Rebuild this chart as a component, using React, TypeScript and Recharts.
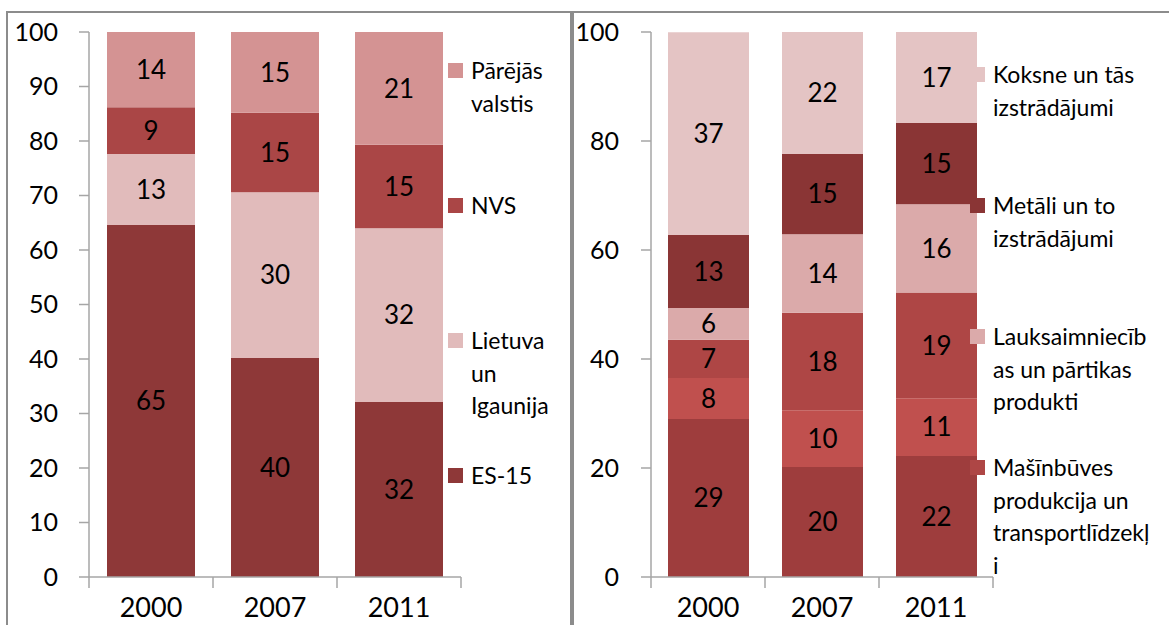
import React from 'react';
import { BarChart, Bar, XAxis, YAxis, LabelList, Legend } from 'recharts';

const years = ['2000', '2007', '2011'];

// Left chart: export by destination (%), bottom to top
const es15 = [64.6, 40.2, 32.1];
const lietuvaIgaunija = [13.0, 30.4, 31.9];
const nvs = [8.6, 14.6, 15.3];
const parejasValstis = [13.8, 14.8, 20.7];

// Right chart: export by product group (%), bottom to top
const groupA = [29.0, 20.2, 22.2];
const groupB = [7.5, 10.4, 10.6];
const masinbuves = [7.05, 17.9, 19.4];
const lauksaimniecibas = [5.8, 14.4, 16.2];
const metali = [13.4, 14.7, 14.9];
const koksne = [37.2, 22.4, 16.7];

const leftTicks = [0, 10, 20, 30, 40, 50, 60, 70, 80, 90, 100];
const rightTicks = [0, 20, 40, 60, 80, 100];

const leftSeries = [
  { key: 'es15', values: es15, color: '#8E3838', lines: ['ES-15'] },
  { key: 'lig', values: lietuvaIgaunija, color: '#E1BBBB', lines: ['Lietuva', 'un', 'Igaunija'] },
  { key: 'nvs', values: nvs, color: '#AA4646', lines: ['NVS'] },
  { key: 'par', values: parejasValstis, color: '#D49393', lines: ['Pārējās', 'valstis'] },
];

const rightSeries = [
  { key: 'a', values: groupA, color: '#9E3D3D', lines: null },
  { key: 'b', values: groupB, color: '#C0504E', lines: null },
  { key: 'mas', values: masinbuves, color: '#AE4645', lines: ['Mašīnbūves', 'produkcija un', 'transportlīdzekļ', 'i'] },
  { key: 'lau', values: lauksaimniecibas, color: '#DBAAAA', lines: ['Lauksaimniecīb', 'as un pārtikas', 'produkti'] },
  { key: 'met', values: metali, color: '#8A3535', lines: ['Metāli un to', 'izstrādājumi'] },
  { key: 'kok', values: koksne, color: '#E4C4C4', lines: ['Koksne un tās', 'izstrādājumi'] },
];

const buildData = (series: any[]) =>
  years.map((y, i) => {
    const row: any = { year: y };
    series.forEach((s) => (row[s.key] = s.values[i]));
    return row;
  });

const leftData = buildData(leftSeries);
const rightData = buildData(rightSeries);

const FONT = 'Lato, "DejaVu Sans", sans-serif';
const AXIS = '#A6A6A6';

const LegendBox = ({ items, slot }: { items: any[]; slot: number }) => (
  <div style={{ fontFamily: FONT, fontSize: 23, color: '#000' }}>
    {items.map((it, i) => (
      <div key={i} style={{ position: 'relative', height: slot }}>
        <div
          style={{
            position: 'absolute',
            left: 0,
            top: 9,
            width: 15,
            height: 15,
            background: it.color,
          }}
        />
        <div
          style={{
            position: 'absolute',
            left: 23,
            top: 0,
            lineHeight: '32.5px',
            whiteSpace: 'pre',
          }}
        >
          {it.lines.join('\n')}
        </div>
      </div>
    ))}
  </div>
);

// Category tick: label centred under the bar, tick marks at category boundaries (Excel style)
const CatTick = (props: any) => {
  const { x, y, payload, index, half, count } = props;
  return (
    <g>
      <line x1={x - half} x2={x - half} y1={y} y2={y + 11} stroke={AXIS} strokeWidth={1.5} />
      {index === count - 1 && (
        <line x1={x + half} x2={x + half} y1={y} y2={y + 11} stroke={AXIS} strokeWidth={1.5} />
      )}
      <text
        x={x}
        y={y + 21}
        dy="0.71em"
        textAnchor="middle"
        fill="#000"
        fontSize={27}
        fontFamily={FONT}
      >
        {payload.value}
      </text>
    </g>
  );
};

const Panel = ({
  data,
  series,
  ticks,
  width,
  height,
  yWidth,
  rightMargin,
  barSize,
  yTickMargin,
  legendLeft,
  legendTop,
  legendSlot,
}: any) => {
  const legendItems = series.filter((s: any) => s.lines).slice().reverse();
  const half = (width - yWidth - rightMargin) / data.length / 2;
  return (
    <BarChart
      width={width}
      height={height}
      data={data}
      margin={{ top: 20, right: rightMargin, bottom: 0, left: 0 }}
      barSize={barSize}
    >
      <XAxis
        dataKey="year"
        height={48}
        axisLine={{ stroke: AXIS, strokeWidth: 1.5 }}
        tickLine={false}
        tickSize={0}
        tickMargin={0}
        interval={0}
        tick={(p: any) => <CatTick {...p} half={half} count={data.length} />}
      />
      <YAxis
        domain={[0, 100]}
        ticks={ticks}
        allowDataOverflow
        width={yWidth}
        tickSize={10}
        tickMargin={yTickMargin}
        axisLine={{ stroke: AXIS, strokeWidth: 1.5 }}
        tickLine={{ stroke: AXIS, strokeWidth: 1.5 }}
        tick={{ fill: '#000', fontSize: 25, fontFamily: FONT }}
      />
      {series.map((s: any) => (
        <Bar
          key={s.key}
          dataKey={s.key}
          stackId="a"
          fill={s.color}
          isAnimationActive={false}
        >
          <LabelList
            dataKey={s.key}
            position="center"
            formatter={(v: any) => Math.round(Number(v))}
            fill="#000"
            fontSize={26}
            fontFamily={FONT}
          />
        </Bar>
      ))}
      <Legend
        layout="vertical"
        align="center"
        verticalAlign="middle"
        wrapperStyle={{ left: legendLeft, top: legendTop, width: 180, height: 'auto' }}
        content={() => <LegendBox items={legendItems} slot={legendSlot} />}
      />
    </BarChart>
  );
};

export default function App() {
  return (
    <div
      style={{
        position: 'absolute',
        left: 0,
        top: 0,
        width: 1169,
        height: 625,
        overflow: 'hidden',
        background: '#fff',
        fontFamily: FONT,
      }}
    >
      <div
        style={{
          position: 'absolute',
          left: 6,
          top: 11,
          width: 566,
          height: 700,
          border: '2px solid #8C8C8C',
          boxSizing: 'border-box',
        }}
      />
      <div
        style={{
          position: 'absolute',
          left: 572,
          top: 11,
          width: 700,
          height: 700,
          border: '2px solid #8C8C8C',
          boxSizing: 'border-box',
        }}
      />
      <div style={{ position: 'absolute', left: 7, top: 12 }}>
        <Panel
          data={leftData}
          series={leftSeries}
          ticks={leftTicks}
          width={566}
          height={613}
          yWidth={82}
          rightMargin={112}
          barSize={88}
          yTickMargin={21}
          legendLeft={441}
          legendTop={42}
          legendSlot={135}
        />
      </div>
      <div style={{ position: 'absolute', left: 573, top: 12 }}>
        <Panel
          data={rightData}
          series={rightSeries}
          ticks={rightTicks}
          width={596}
          height={613}
          yWidth={78}
          rightMargin={176}
          barSize={81}
          yTickMargin={22}
          legendLeft={397}
          legendTop={46}
          legendSlot={131}
        />
      </div>
    </div>
  );
}
